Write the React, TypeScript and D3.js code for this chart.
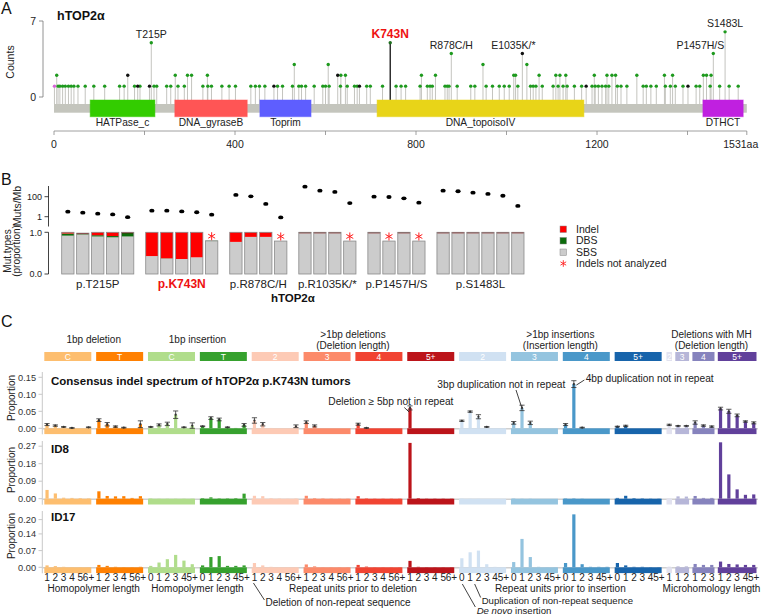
import React, { useEffect } from 'react';
import * as d3 from 'd3';

const FONT = "'Liberation Sans', Arial, Helvetica, sans-serif";

// ---------------- Panel A data ----------------
const proteinLength = 1531;
const domainNames = ['HATPase_c', 'DNA_gyraseB', 'Toprim', 'DNA_topoisoIV', 'DTHCT'];
const domainStart = [80, 267, 455, 714, 1434];
const domainEnd = [223, 427, 568, 1171, 1523];
const domainColors = ['#33cc00', '#ff5555', '#5e5eff', '#e8d418', '#c020e0'];

const count1Missense = [9, 13, 19, 25, 32, 38, 44, 53, 69, 88, 112, 145, 155, 178, 190, 221, 227, 249, 258, 274, 288, 329, 340, 348, 371, 387, 401, 435, 445, 454, 466, 494, 505, 527, 541, 547, 556, 575, 594, 600, 608, 633, 648, 664, 670, 691, 699, 726, 756, 767, 777, 809, 825, 831, 836, 864, 869, 873, 891, 921, 930, 955, 969, 984, 995, 1006, 1025, 1053, 1059, 1065, 1079, 1103, 1114, 1125, 1134, 1150, 1166, 1189, 1196, 1203, 1211, 1219, 1226, 1245, 1253, 1266, 1302, 1309, 1319, 1331, 1351, 1362, 1373, 1390, 1419, 1427, 1450, 1471, 1492, 1512];
const count1Truncating = [185, 211, 486, 675, 1176, 1401];
const count1Other = [1];
const count2Missense = [6, 268, 295, 304, 339, 634, 644, 812, 843, 1016, 1020, 1072, 1109, 1118, 1131, 1194, 1222, 1233, 1241, 1288, 1349, 1367, 1435, 1442, 1452];
const count2Truncating = [163, 627];
const count3Missense = [531, 606, 948, 1045];
const hotspotAA = [215, 743, 878, 1035, 1457, 1483];
const hotspotLabels = ['T215P', 'K743N', 'R878C/H', 'E1035K/*', 'P1457H/S', 'S1483L'];
const hotspotCounts = [5, 5, 4, 4, 4, 6];
const hotspotKinds = ['m', 'k', 'm', 't', 'm', 'm'];
const hotspotLabelDx = [0, 0, 0, -9, -13, 0];
const axisATicks = [0, 200, 400, 600, 800, 1000, 1200, 1400, 1531];
const axisALabelled = [0, 400, 800, 1200];

// ---------------- Panel B data ----------------
const bGroupLabels = ['p.T215P', 'p.K743N', 'p.R878C/H', 'p.R1035K/*', 'p.P1457H/S', 'p.S1483L'];
const bGroupSizes = [5, 5, 4, 4, 4, 6];
const tmbValues = [3.2, 2.5, 2.0, 1.7, 0.9, 4.0, 4.0, 3.4, 2.8, 1.6, 150, 110, 19, 0.85, 1000, 400, 300, 23, 100, 93, 69, 25, 400, 350, 250, 190, 125, 12];
const sbsProp = [0.92, 0.95, 0.9, 0.88, 0.9, 0.43, 0.37, 0.36, 0.4, 0.79, 0.77, 0.89, 0.89, 0.79, 0.985, 0.985, 0.985, 0.79, 0.99, 0.79, 0.985, 0.79, 0.995, 0.985, 0.995, 0.995, 0.995, 0.985];
const dbsProp = [0.05, 0.01, 0.03, 0.03, 0.09, 0, 0.006, 0, 0, 0.006, 0, 0, 0, 0, 0.01, 0.005, 0.005, 0, 0.005, 0, 0.01, 0, 0, 0, 0, 0, 0, 0];
const indelProp = [0.03, 0.02, 0.07, 0.09, 0.01, 0.57, 0.624, 0.64, 0.6, 0, 0.23, 0.11, 0.11, 0, 0.005, 0.01, 0.01, 0, 0.005, 0, 0.005, 0, 0.005, 0.015, 0.005, 0.005, 0.005, 0.015];
const indelNotAnalyzed = [0, 0, 0, 0, 0, 0, 0, 0, 0, 1, 0, 0, 0, 1, 0, 0, 0, 1, 0, 1, 0, 1, 0, 0, 0, 0, 0, 0];
const legendLabels = ['Indel', 'DBS', 'SBS'];
const legendColors = ['#ff0000', '#0b6b0b', '#cccccc'];

// ---------------- Panel C data ----------------
const idGroupLabels = ['C', 'T', 'C', 'T', '2', '3', '4', '5+', '2', '3', '4', '5+', '2', '3', '4', '5+'];
const idGroupSizes = [6, 6, 6, 6, 6, 6, 6, 6, 6, 6, 6, 6, 1, 2, 3, 5];
const idGroupColors = ['#FDBE6F', '#FF8001', '#B0DD8B', '#36A12E', '#FDCAB5', '#FC8A6A', '#F14432', '#BC141A', '#D0E1F2', '#94C4DF', '#4A98C9', '#1764AB', '#E2E2EF', '#B6B6D8', '#8683BD', '#61409B'];
const idGroupKinds = ['del', 'del', 'ins', 'ins', 'del', 'del', 'del', 'del', 'ins', 'ins', 'ins', 'ins', 'mh', 'mh', 'mh', 'mh'];
const delTickLabels = ['1', '2', '3', '4', '5', '6+'];
const insTickLabels = ['0', '1', '2', '3', '4', '5+'];
const mhTickLabels = ['1', '2', '3', '4', '5+'];
const headerCategories = [['1bp deletion'], ['1bp insertion'], ['>1bp deletions', '(Deletion length)'], ['>1bp insertions', '(Insertion length)'], ['Deletions with MH', '(Deletion length)']];
const headerRanges = [[0, 1], [2, 3], [4, 7], [8, 11], [12, 15]];
const bottomDescriptions = ['Homopolymer length', 'Homopolymer length', 'Repeat units prior to deletion', 'Repeat units prior to insertion', 'Microhomology length'];

const consensusValues = [
  0.011, 0.008, 0.004, 0.001, 0.0, 0.003,
  0.024, 0.012, 0.005, 0.002, 0.0, 0.012,
  0.004, 0.010, 0.013, 0.040, 0.003, 0.008,
  0.006, 0.030, 0.026, 0.003, 0.001, 0.010,
  0.023, 0.012, 0.001, 0.0, 0.0, 0.006,
  0.018, 0.007, 0.0, 0.0, 0.0, 0.0,
  0.012, 0.001, 0.0, 0.0, 0.0, 0.0,
  0.060, 0.0, 0.0, 0.0, 0.0, 0.0,
  0.022, 0.049, 0.034, 0.004, 0.0, 0.0,
  0.016, 0.060, 0.016, 0.0, 0.0, 0.0,
  0.011, 0.130, 0.002, 0.0, 0.0, 0.0,
  0.005, 0.007, 0.0, 0.0, 0.0, 0.0,
  0.010,
  0.007, 0.007,
  0.017, 0.008, 0.005,
  0.058, 0.050, 0.038, 0.020, 0.016,
];
const consensusErrors = [
  0.003, 0.002, 0.001, 0.001, 0, 0.001,
  0.004, 0.005, 0.002, 0.001, 0, 0.010,
  0.001, 0.003, 0.005, 0.011, 0.001, 0.008,
  0.001, 0.004, 0.004, 0.001, 0, 0.004,
  0.008, 0.005, 0, 0, 0, 0.004,
  0.004, 0.003, 0, 0, 0, 0,
  0.003, 0.001, 0, 0, 0, 0,
  0.006, 0, 0, 0, 0, 0,
  0.002, 0.002, 0.006, 0.001, 0, 0,
  0.004, 0.008, 0.005, 0, 0, 0,
  0.003, 0.010, 0.001, 0, 0, 0,
  0.001, 0.002, 0, 0, 0, 0,
  0.002,
  0.001, 0.001,
  0.005, 0.002, 0.002,
  0.004, 0.006, 0.004, 0.002, 0.003,
];
const id8Values = [
  0.045, 0.027, 0.005, 0.004, 0.003, 0.002,
  0.038, 0.014, 0.012, 0.013, 0.004, 0.013,
  0.002, 0.001, 0.001, 0.001, 0.001, 0.001,
  0.003, 0.007, 0.002, 0.002, 0.003, 0.026,
  0.015, 0.013, 0.003, 0.002, 0.001, 0.002,
  0.015, 0.003, 0.002, 0.001, 0.001, 0.001,
  0.013, 0.002, 0.001, 0.001, 0.001, 0.001,
  0.287, 0.003, 0.001, 0.001, 0.001, 0.001,
  0.002, 0.001, 0.001, 0.0, 0.0, 0.0,
  0.002, 0.001, 0.001, 0.0, 0.0, 0.0,
  0.002, 0.002, 0.001, 0.0, 0.0, 0.0,
  0.004, 0.015, 0.003, 0.002, 0.001, 0.001,
  0.003,
  0.012, 0.011,
  0.014, 0.004, 0.004,
  0.290, 0.125, 0.048, 0.020, 0.022,
];
const id17Values = [
  0.008, 0.005, 0.002, 0.001, 0.001, 0.001,
  0.010, 0.006, 0.002, 0.001, 0.001, 0.002,
  0.006, 0.020, 0.034, 0.052, 0.028, 0.013,
  0.008, 0.043, 0.047, 0.006, 0.006, 0.008,
  0.018, 0.008, 0.002, 0.001, 0.001, 0.001,
  0.012, 0.004, 0.001, 0.001, 0.001, 0.001,
  0.010, 0.003, 0.001, 0.001, 0.001, 0.001,
  0.027, 0.002, 0.001, 0.001, 0.001, 0.001,
  0.038, 0.063, 0.070, 0.013, 0.002, 0.001,
  0.022, 0.119, 0.043, 0.002, 0.001, 0.001,
  0.018, 0.222, 0.013, 0.002, 0.002, 0.002,
  0.018, 0.008, 0.002, 0.002, 0.001, 0.001,
  0.003,
  0.004, 0.004,
  0.014, 0.010, 0.010,
  0.024, 0.014, 0.012, 0.010, 0.010,
];
const rowTitles = ['Consensus indel spectrum of hTOP2\u03b1 p.K743N tumors', 'ID8', 'ID17'];
const rowTicks = [[0, 0.05, 0.1, 0.15], [0, 0.09, 0.18, 0.27], [0, 0.07, 0.14, 0.2]];

function asteriskPath(cx: number, cy: number, r: number) {
  const c = Math.cos(Math.PI / 6) * r;
  const s = Math.sin(Math.PI / 6) * r;
  return `M${cx},${cy - r}L${cx},${cy + r}M${cx - c},${cy - s}L${cx + c},${cy + s}M${cx - c},${cy + s}L${cx + c},${cy - s}`;
}

export default function App() {
  useEffect(() => {
    document.body.style.margin = '0';
  }, []);

  // ---------- Panel A ----------
  const xA = d3.scaleLinear().domain([0, proteinLength]).range([54, 746.8]);
  const yA = d3.scaleLinear().domain([0, 7]).range([97, 21]);
  const backboneTop = 104;
  type Lolli = { aa: number; count: number; kind: string };
  const lollis: Lolli[] = [
    ...count1Missense.map((aa) => ({ aa, count: 1, kind: 'm' })),
    ...count1Truncating.map((aa) => ({ aa, count: 1, kind: 't' })),
    ...count1Other.map((aa) => ({ aa, count: 1, kind: 'o' })),
    ...count2Missense.map((aa) => ({ aa, count: 2, kind: 'm' })),
    ...count2Truncating.map((aa) => ({ aa, count: 2, kind: 't' })),
    ...count3Missense.map((aa) => ({ aa, count: 3, kind: 'm' })),
    ...hotspotAA.map((aa, i) => ({ aa, count: hotspotCounts[i], kind: hotspotKinds[i] })),
  ];
  const dotColor: Record<string, string> = { m: '#1e9a1e', t: '#111111', o: '#d865d8', k: '#1d6e1d' };

  // ---------- Panel B ----------
  const xB = d3.scaleLinear().domain([0, 1]).range([61.7, 61.7 + 14.95]);
  const barW = 12.3;
  const yTmb = d3.scaleLog().domain([1, 100]).range([216.7, 196.7]);
  const yProp = d3.scaleLinear().domain([0, 1]).range([274, 232.3]);
  const bBars: { x: number; i: number; g: number }[] = [];
  let bi = 0;
  bGroupSizes.forEach((n, g) => {
    for (let k = 0; k < n; k++) {
      bBars.push({ x: xB(bi + g * 0.62), i: bi, g });
      bi++;
    }
  });
  const groupCenters = bGroupSizes.map((_, g) => {
    const bars = bBars.filter((b) => b.g === g);
    return (bars[0].x + bars[bars.length - 1].x + barW) / 2;
  });

  // ---------- Panel C ----------
  const xC = d3.scaleLinear().domain([0, 1]).range([42.9, 42.9 + 8.3]);
  const groupStart: number[] = [];
  let s = 0;
  idGroupSizes.forEach((n, j) => {
    if (j > 0) s += j <= 12 ? 0.247 : 0.06;
    groupStart.push(s);
    s += n;
  });
  const totalSlots = s;
  const inset = 1.4;
  const groupX0 = idGroupSizes.map((_, j) => xC(groupStart[j]) + inset);
  const groupX1 = idGroupSizes.map((n, j) => xC(groupStart[j] + n) - inset);
  const channels: { cx: number; color: string; label: string; g: number; k: number }[] = [];
  idGroupSizes.forEach((n, j) => {
    const labels = idGroupKinds[j] === 'del' ? delTickLabels : idGroupKinds[j] === 'ins' ? insTickLabels : mhTickLabels;
    for (let k = 0; k < n; k++) {
      channels.push({ cx: xC(groupStart[j] + k + 0.5), color: idGroupColors[j], label: labels[k], g: j, k });
    }
  });
  const chX = (g: number, k: number) => channels.find((c) => c.g === g && c.k === k)!.cx;

  const rowZero = [428.3, 498.7, 567.3];
  const rowTopTickY = [377.3, 446.2, 519.6];
  const rowAxisTop = [372, 441, 511];
  const rowLabelY = [398, 470, 536];
  const rowTitleY = [385, 452.5, 521];
  const rowValues = [consensusValues, id8Values, id17Values];
  const rowScales = rowTicks.map((t, r) =>
    d3.scaleLinear().domain([0, t[t.length - 1]]).range([rowZero[r], rowTopTickY[r]])
  );
  const fmt = d3.format('.2f');

  const txt = { fontFamily: FONT, fill: '#222' } as const;

  return (
    <svg width={762} height={615} style={{ position: 'absolute', left: 0, top: 0, background: '#fff' }} fontFamily={FONT}>
      <rect x={0} y={0} width={762} height={615} fill="#fff" />
      {/* ================= Panel A ================= */}
      <text x={1} y={14} fontSize={16} {...txt} fill="#111">A</text>
      <text x={57} y={20} fontSize={12.5} fontWeight="bold" {...txt} fill="#111">hTOP2α</text>
      <line x1={43} x2={43} y1={yA(7)} y2={yA(0)} stroke="#777" strokeWidth={0.8} />
      {[0, 7].map((t) => (
        <g key={t}>
          <line x1={39} x2={43} y1={yA(t)} y2={yA(t)} stroke="#777" strokeWidth={0.8} />
          <text x={36} y={yA(t) + 3.5} fontSize={10.5} textAnchor="end" {...txt}>{t}</text>
        </g>
      ))}
      <text transform={`translate(14,62) rotate(-90)`} fontSize={10.5} textAnchor="middle" {...txt}>Counts</text>
      {lollis.map((l, i) => (
        <line key={'s' + i} x1={xA(l.aa)} x2={xA(l.aa)} y1={backboneTop} y2={yA(l.count)}
          stroke={l.kind === 'k' ? '#111' : '#bdbdb8'} strokeWidth={l.kind === 'k' ? 1.3 : 0.9} />
      ))}
      <rect x={xA(0)} y={104} width={xA(proteinLength) - xA(0)} height={8.7} fill="#c4c5bd" />
      {domainNames.map((d, i) => (
        <g key={d}>
          <rect x={xA(domainStart[i])} y={100} width={xA(domainEnd[i]) - xA(domainStart[i])} height={16.7}
            fill={domainColors[i]} stroke={domainColors[i]} strokeOpacity={0.5} />
          <text x={(xA(domainStart[i]) + xA(domainEnd[i])) / 2} y={126} fontSize={10.2} textAnchor="middle" {...txt}>{d}</text>
        </g>
      ))}
      {lollis.map((l, i) => (
        <circle key={'d' + i} cx={xA(l.aa)} cy={yA(l.count)} r={1.7} fill={dotColor[l.kind]} />
      ))}
      {hotspotAA.map((aa, i) => (
        <text key={'h' + i} x={xA(aa) + hotspotLabelDx[i]} y={yA(hotspotCounts[i]) - 4.5}
          fontSize={hotspotKinds[i] === 'k' ? 12 : 10.5} fontWeight={hotspotKinds[i] === 'k' ? 'bold' : 'normal'}
          textAnchor="middle" {...txt} fill={hotspotKinds[i] === 'k' ? '#ee1111' : '#222'}>{hotspotLabels[i]}</text>
      ))}
      <line x1={xA(0)} x2={xA(proteinLength)} y1={131} y2={131} stroke="#888" strokeWidth={0.8} />
      {axisATicks.map((t) => (
        <line key={t} x1={xA(t)} x2={xA(t)} y1={131} y2={135} stroke="#888" strokeWidth={0.8} />
      ))}
      {axisALabelled.map((t) => (
        <text key={t} x={xA(t)} y={148} fontSize={10.5} textAnchor="middle" {...txt}>{t}</text>
      ))}
      <text x={xA(proteinLength) - 6} y={148} fontSize={10.5} textAnchor="middle" {...txt}>{proteinLength + 'aa'}</text>

      {/* ================= Panel B ================= */}
      <text x={1} y={185} fontSize={16} {...txt} fill="#111">B</text>
      <line x1={48.5} x2={48.5} y1={186} y2={226.5} stroke="#111" strokeWidth={0.8} />
      {[100, 1].map((t) => (
        <g key={t}>
          <line x1={44.5} x2={48.5} y1={yTmb(t)} y2={yTmb(t)} stroke="#111" strokeWidth={0.8} />
          <text x={42} y={yTmb(t) + 3.2} fontSize={9} textAnchor="end" {...txt}>{t}</text>
        </g>
      ))}
      <text transform={`translate(21,206) rotate(-90)`} fontSize={10.5} textAnchor="middle" {...txt}>Muts/Mb</text>
      <line x1={48.5} x2={48.5} y1={yProp(1)} y2={yProp(0)} stroke="#111" strokeWidth={0.8} />
      {[1, 0].map((t) => (
        <g key={t}>
          <line x1={44.5} x2={48.5} y1={yProp(t)} y2={yProp(t)} stroke="#111" strokeWidth={0.8} />
          <text x={42} y={yProp(t) + 3.2} fontSize={9} textAnchor="end" {...txt}>{t.toFixed(1)}</text>
        </g>
      ))}
      <text transform={`translate(11,251) rotate(-90)`} fontSize={10} textAnchor="middle" {...txt}>Mut.types</text>
      <text transform={`translate(20,251) rotate(-90)`} fontSize={10} textAnchor="middle" {...txt}>(proportion)</text>
      {bBars.map((b) => {
        const i = b.i;
        const sb = sbsProp[i], db = dbsProp[i], ind = indelProp[i];
        return (
          <g key={'b' + i}>
            <ellipse cx={b.x + barW / 2} cy={yTmb(tmbValues[i])} rx={2.6} ry={1.9} fill="#000" />
            <rect x={b.x} y={yProp(sb)} width={barW} height={yProp(0) - yProp(sb)} fill="#cccccc" />
            {db > 0 && <rect x={b.x} y={yProp(sb + db)} width={barW} height={yProp(sb) - yProp(sb + db)} fill="#0b6b0b" />}
            {ind > 0 && <rect x={b.x} y={yProp(sb + db + ind)} width={barW} height={yProp(sb + db) - yProp(sb + db + ind)} fill="#ff0000" />}
            {ind > 0 && ind < 0.03 && <line x1={b.x} x2={b.x + barW} y1={yProp(sb + db + ind) + 0.5} y2={yProp(sb + db + ind) + 0.5} stroke="#7a1010" strokeWidth={1} />}
            <rect x={b.x} y={yProp(sb + db + ind)} width={barW} height={yProp(0) - yProp(sb + db + ind)} fill="none" stroke="#8a8a8a" strokeWidth={0.8} />
            {indelNotAnalyzed[i] === 1 && (
              <path d={asteriskPath(b.x + barW / 2, yProp(sb + db + ind) - 4.6, 4)} stroke="#ff2020" strokeWidth={1} fill="none" />
            )}
          </g>
        );
      })}
      {bGroupLabels.map((l, g) => (
        <text key={l} x={groupCenters[g]} y={288} fontSize={g === 1 ? 12 : 11.5} fontWeight={g === 1 ? 'bold' : 'normal'}
          textAnchor="middle" {...txt} fill={g === 1 ? '#ee1111' : '#222'}>{l}</text>
      ))}
      <text x={(bBars[0].x + bBars[bBars.length - 1].x + barW) / 2} y={301.5} fontSize={11.5} fontWeight="bold" textAnchor="middle" {...txt} fill="#111">hTOP2α</text>
      {legendLabels.map((l, i) => (
        <g key={l}>
          <rect x={560} y={226 + i * 11.5} width={6.5} height={6.5} fill={legendColors[i]} stroke="#888" strokeWidth={0.5} />
          <text x={576} y={232.8 + i * 11.5} fontSize={10.5} {...txt}>{l}</text>
        </g>
      ))}
      <path d={asteriskPath(563.3, 263.5, 3.3)} stroke="#ff2020" strokeWidth={0.9} fill="none" />
      <text x={576} y={267} fontSize={10.5} {...txt}>Indels not analyzed</text>

      {/* ================= Panel C ================= */}
      <text x={1} y={327} fontSize={16} {...txt} fill="#111">C</text>
      {headerCategories.map((lines, h) => {
        const cx = (groupX0[headerRanges[h][0]] + groupX1[headerRanges[h][1]]) / 2;
        return lines.length === 1 ? (
          <text key={h} x={cx} y={343} fontSize={10} textAnchor="middle" {...txt}>{lines[0]}</text>
        ) : (
          <g key={h}>
            <text x={cx} y={337.5} fontSize={10} textAnchor="middle" {...txt}>{lines[0]}</text>
            <text x={cx} y={348.5} fontSize={10} textAnchor="middle" {...txt}>{lines[1]}</text>
          </g>
        );
      })}
      {idGroupLabels.map((l, j) => (
        <g key={'hb' + j}>
          <rect x={groupX0[j]} y={352} width={groupX1[j] - groupX0[j]} height={9} fill={idGroupColors[j]} />
          <text x={(groupX0[j] + groupX1[j]) / 2} y={359.6} fontSize={8.5} textAnchor="middle" fill="#fff" fontFamily={FONT}>{l}</text>
        </g>
      ))}
      {rowValues.map((vals, r) => {
        const y = rowScales[r];
        const z = rowZero[r];
        return (
          <g key={'row' + r}>
            <line x1={42.3} x2={42.3} y1={rowAxisTop[r]} y2={z + 6} stroke="#c8c8c8" strokeWidth={1} />
            {rowTicks[r].map((t) => (
              <g key={t}>
                <line x1={38.5} x2={42.3} y1={y(t)} y2={y(t)} stroke="#c8c8c8" strokeWidth={1} />
                <text x={36} y={y(t) + 3.2} fontSize={9.2} textAnchor="end" {...txt} fill="#333">{fmt(t)}</text>
              </g>
            ))}
            <text transform={`translate(14.5,${rowLabelY[r]}) rotate(-90)`} fontSize={10} textAnchor="middle" {...txt}>Proportion</text>
            <text x={51} y={rowTitleY[r]} fontSize={11.5} fontWeight="bold" {...txt} fill="#111">{rowTitles[r]}</text>
            <line x1={xC(0)} x2={xC(totalSlots)} y1={z + 0.5} y2={z + 0.5} stroke="#d0d0d0" strokeWidth={1.5} />
            {idGroupColors.map((c, j) => (
              <rect key={'st' + j} x={groupX0[j]} y={z} width={groupX1[j] - groupX0[j]} height={5.8} fill={c} />
            ))}
            {channels.map((ch, i) => {
              const v = vals[i];
              return v > 0 ? (
                <rect key={'bar' + i} x={ch.cx - 1.6} y={y(v)} width={3.2} height={z - y(v)} fill={ch.color} />
              ) : null;
            })}
            {r === 0 &&
              channels.map((ch, i) => {
                const e = consensusErrors[i];
                const v = vals[i];
                if (e <= 0) return null;
                const lo = Math.max(0, v - e);
                return (
                  <g key={'e' + i} stroke="#333" strokeWidth={0.8}>
                    <line x1={ch.cx} x2={ch.cx} y1={y(lo)} y2={y(v + e)} />
                    <line x1={ch.cx - 2.6} x2={ch.cx + 2.6} y1={y(v + e)} y2={y(v + e)} />
                    <line x1={ch.cx - 2.6} x2={ch.cx + 2.6} y1={y(lo)} y2={y(lo)} />
                    <circle cx={ch.cx} cy={y(v)} r={1.1} fill="#333" stroke="none" />
                  </g>
                );
              })}
          </g>
        );
      })}
      {(() => {
        const y = rowScales[0];
        const d5 = chX(7, 0);
        const i3 = chX(9, 1);
        const i4 = chX(10, 1);
        return (
          <g>
            <text x={d5 - 81.7} y={404.5} fontSize={10.2} {...txt}>Deletion ≥ 5bp not in repeat</text>
            <line x1={d5 - 5.7} y1={407.5} x2={d5 - 1} y2={y(consensusValues[42]) + 4} stroke="#111" strokeWidth={0.8} />
            <text x={i3 - 84.7} y={388} fontSize={10.2} {...txt}>3bp duplication not in repeat</text>
            <line x1={i3 - 6} y1={390} x2={i3 - 0.5} y2={y(consensusValues[55]) - 1} stroke="#111" strokeWidth={0.8} />
            <text x={i4 + 11.8} y={382} fontSize={10.2} {...txt}>4bp duplication not in repeat</text>
            <line x1={i4 + 2.5} y1={y(consensusValues[61]) + 1} x2={i4 + 10.5} y2={380} stroke="#111" strokeWidth={0.8} />
          </g>
        );
      })()}
      {channels.map((ch, i) => (
        <text key={'cl' + i} x={ch.cx} y={581} fontSize={10} textAnchor="middle" {...txt}>{ch.label}</text>
      ))}
      {bottomDescriptions.map((d, h) => (
        <text key={'bd' + h} x={(groupX0[headerRanges[h][0]] + groupX1[headerRanges[h][1]]) / 2} y={591.5}
          fontSize={10} textAnchor="middle" {...txt}>{d}</text>
      ))}
      {(() => {
        const d2 = chX(4, 0);
        const i20 = chX(8, 0);
        const i21 = chX(8, 1);
        return (
          <g>
            <line x1={d2 - 1} y1={583} x2={d2 + 10} y2={600} stroke="#111" strokeWidth={0.8} />
            <text x={d2 + 11} y={606} fontSize={10} {...txt}>Deletion of non-repeat sequence</text>
            <line x1={i21 + 4.5} y1={584} x2={i21 + 10.5} y2={597.5} stroke="#111" strokeWidth={0.8} />
            <text x={i21 + 11.5} y={603.6} fontSize={9.6} {...txt}>Duplication of non-repeat sequence</text>
            <line x1={i20 + 0.5} y1={584} x2={i20 + 13.5} y2={607} stroke="#111" strokeWidth={0.8} />
            <text x={i20 + 14.8} y={614.3} fontSize={9.6} {...txt}>
              <tspan fontStyle="italic">De novo</tspan> insertion
            </text>
          </g>
        );
      })()}
    </svg>
  );
}
